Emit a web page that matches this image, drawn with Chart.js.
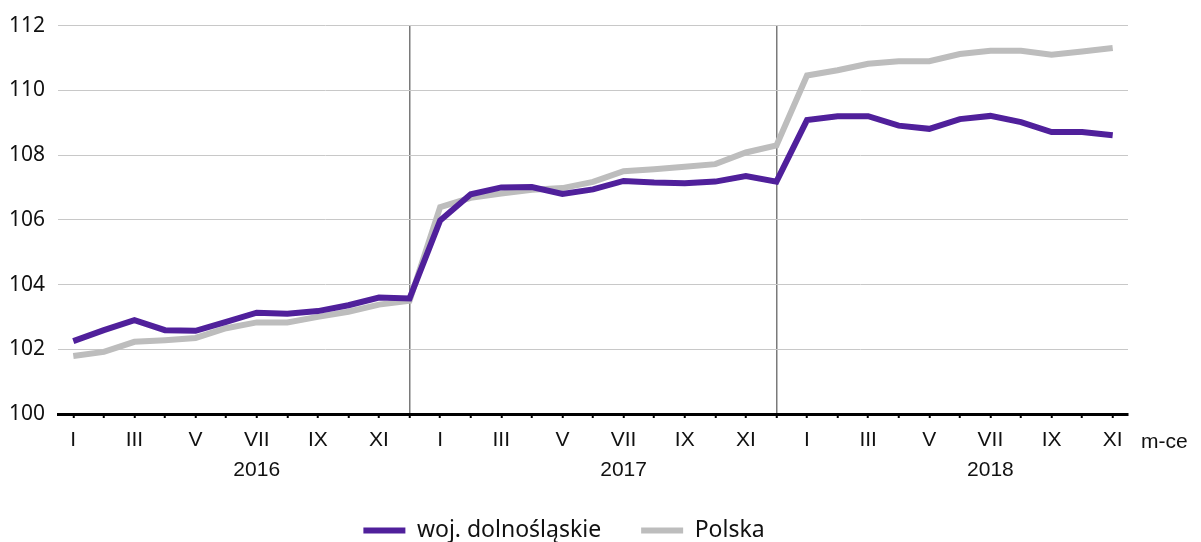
<!DOCTYPE html>
<html>
<head>
<meta charset="utf-8">
<script src="https://cdn.jsdelivr.net/npm/chart.js@4"></script>
<style>
  body { margin: 0; background: #fff; }
  #wrap { width: 1201px; height: 542px; }
</style>
</head>
<body>
<div id="wrap"><canvas id="chart" width="1201" height="542"></canvas></div>
<script>
// wskaźnik (analogiczny okres = 100), miesiące I 2016 - XI 2018
const years = ["2016", "2017", "2018"];
const months = ["I", "II", "III", "IV", "V", "VI", "VII", "VIII", "IX", "X", "XI", "XII"];

const dolnoslaskie = [
    102.25, 102.59, 102.90, 102.59, 102.57, 102.85, 103.13, 103.10, 103.18, 103.36, 103.60, 103.57,
    105.98, 106.79, 107.00, 107.01, 106.80, 106.94, 107.20, 107.15, 107.13, 107.18, 107.35, 107.18,
    109.08, 109.20, 109.20, 108.91, 108.81, 109.11, 109.21, 109.02, 108.71, 108.71, 108.61
];
const polska = [
    101.79, 101.92, 102.23, 102.28, 102.35, 102.65, 102.83, 102.83, 103.00, 103.16, 103.38, 103.50,
    106.39, 106.68, 106.81, 106.93, 106.98, 107.17, 107.50, 107.56, 107.64, 107.72, 108.08, 108.30,
    110.46, 110.62, 110.82, 110.90, 110.90, 111.12, 111.22, 111.22, 111.10, 111.20, 111.31
];

const yTicks = [100, 102, 104, 106, 108, 110, 112];
const xUnit = "m-ce";

const purple = "#50209b";
const grey = "#bdbdbd";
const font = "'Noto Sans', 'Open Sans', sans-serif";
const axisFont = "'Liberation Sans', Arial, sans-serif";

// etykiety osi X: miesiąc, a pod lipcem rok
const labels = [];
years.forEach(year => {
    months.forEach((m, i) => {
        if (labels.length >= dolnoslaskie.length) return;
        labels.push(i === 6 ? [m, year] : m);
    });
});

// separatory lat po grudniu
const yearEnds = labels.map((l, i) => i).filter(i => i % 12 === 11);

const unitLabel = {
    id: "unitLabel",
    afterDraw(chart) {
        const x = chart.scales.x;
        const ctx = chart.ctx;
        ctx.save();
        ctx.font = "21px " + axisFont;
        ctx.fillStyle = "#111";
        ctx.textAlign = "left";
        ctx.textBaseline = "middle";
        ctx.fillText(xUnit, x.right + 13, x.top + 28);
        ctx.restore();
    }
};

new Chart(document.getElementById("chart"), {
    type: "line",
    data: {
        labels: labels,
        datasets: [
            {
                label: "woj. dolnośląskie",
                data: dolnoslaskie,
                borderColor: purple,
                backgroundColor: purple,
                borderWidth: 6,
                pointRadius: 0,
                tension: 0
            },
            {
                label: "Polska",
                data: polska,
                borderColor: grey,
                backgroundColor: grey,
                borderWidth: 6,
                pointRadius: 0,
                tension: 0
            }
        ]
    },
    options: {
        responsive: false,
        animation: false,
        layout: { padding: { top: 14, left: 0, right: 73, bottom: -10 } },
        plugins: {
            tooltip: { enabled: false },
            legend: {
                position: "bottom",
                labels: {
                    boxWidth: 42,
                    boxHeight: 6,
                    padding: 40,
                    color: "#111",
                    font: { family: font, size: 23 },
                    generateLabels(chart) {
                        return Chart.defaults.plugins.legend.labels.generateLabels(chart)
                            .map(item => Object.assign(item, { lineWidth: 0 }));
                    }
                }
            }
        },
        scales: {
            x: {
                offset: true,
                afterFit(axis) { axis.height = 65; },
                grid: {
                    offset: false,
                    color: ctx => yearEnds.includes(ctx.index) ? "#7a7a7a" : "rgba(0,0,0,0)",
                    lineWidth: 1.5,
                    tickColor: "#000",
                    tickLength: 4,
                    tickWidth: 2
                },
                border: { display: true, color: "#000", width: 3 },
                ticks: {
                    autoSkip: false,
                    maxRotation: 0,
                    padding: 8,
                    color: "#111",
                    font: { family: axisFont, size: 21, lineHeight: 1.4 },
                    callback: function (value, index) {
                        return index % 2 === 0 ? this.getLabelForValue(value) : "";
                    }
                }
            },
            y: {
                min: 100,
                max: 112,
                afterFit(axis) { axis.width = 58; },
                afterBuildTicks(axis) {
                    axis.ticks = yTicks.map(v => ({ value: v }));
                },
                grid: {
                    color: ctx => ctx.tick && ctx.tick.value === 100 ? "rgba(0,0,0,0)" : "#c8c8c8",
                    lineWidth: 1,
                    drawTicks: false
                },
                border: { display: false },
                ticks: {
                    padding: 13,
                    color: "#111",
                    font: { family: font, size: 21 }
                }
            }
        }
    },
    plugins: [unitLabel]
});
</script>
</body>
</html>
